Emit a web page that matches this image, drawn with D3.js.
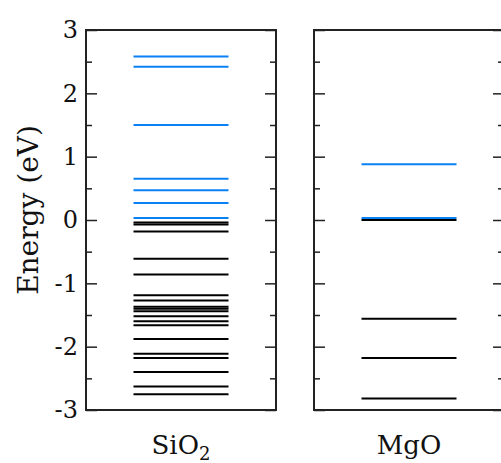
<!DOCTYPE html>
<html>
<head>
<meta charset="utf-8">
<script src="https://cdn.jsdelivr.net/npm/d3@7"></script>
<style>
  body { margin: 0; background: #fff; }
  .serif { font-family: 'DejaVu Serif', serif; }
</style>
</head>
<body>
<svg id="chart"></svg>
<script>
// panels (materials)
const materials = ['SiO2', 'MgO'];
// unoccupied levels (blue), eV
const sio2Empty = [2.58, 2.42, 1.50, 0.65, 0.47, 0.27, 0.03];
const mgoEmpty = [0.88, 0.03];
// occupied levels (black), eV
const sio2Filled = [-0.04, -0.07, -0.18, -0.61, -0.86, -1.19, -1.27, -1.37, -1.40, -1.44,
                    -1.52, -1.60, -1.66, -1.88, -2.11, -2.18, -2.40, -2.63, -2.75];
const mgoFilled = [0.0, -1.56, -2.18, -2.82];
const majorTicks = [-3, -2, -1, 0, 1, 2, 3];
const minorTicks = [-2.5, -1.5, -0.5, 0.5, 1.5, 2.5];

const levels = [];
sio2Filled.forEach(e => levels.push({mat: 'SiO2', e: e, empty: false}));
sio2Empty.forEach(e => levels.push({mat: 'SiO2', e: e, empty: true}));
mgoFilled.forEach(e => levels.push({mat: 'MgO', e: e, empty: false}));
mgoEmpty.forEach(e => levels.push({mat: 'MgO', e: e, empty: true}));

const config = {
  width: 501, height: 463,
  margin: {top: 30, right: -3, bottom: 53, left: 86}
};
const innerH = config.height - config.margin.top - config.margin.bottom;
const innerW = config.width - config.margin.left - config.margin.right;

const svg = d3.select('#chart')
  .attr('width', config.width)
  .attr('height', config.height);

const chart = svg.append('g')
  .attr('transform', `translate(${config.margin.left},${config.margin.top})`);

const yScale = d3.scaleLinear().domain([-3, 3]).range([innerH, 0]);
const xScale = d3.scaleBand().domain(materials).range([0, innerW])
  .paddingInner(0.1667).paddingOuter(0);
const bw = xScale.bandwidth();

// energy levels
chart.selectAll('.level')
  .data(levels)
  .join('line')
  .attr('class', 'level')
  .attr('x1', d => xScale(d.mat) + bw * 0.25)
  .attr('x2', d => xScale(d.mat) + bw * 0.75)
  .attr('y1', d => yScale(d.e))
  .attr('y2', d => yScale(d.e))
  .attr('stroke', d => d.empty ? '#0a80f5' : '#000')
  .attr('stroke-width', 2);

materials.forEach((m, i) => {
  const g = chart.append('g').attr('transform', `translate(${xScale(m)},0)`);

  const left = g.append('g')
    .call(d3.axisLeft(yScale).tickValues(majorTicks).tickSizeInner(-11).tickSizeOuter(0).tickPadding(8));
  g.append('g').call(d3.axisLeft(yScale).tickValues(minorTicks).tickSizeInner(-6).tickSizeOuter(0).tickFormat(''));
  g.append('g').attr('transform', `translate(${bw},0)`)
    .call(d3.axisRight(yScale).tickValues(majorTicks).tickSizeInner(-11).tickSizeOuter(0).tickFormat(''));
  g.append('g').attr('transform', `translate(${bw},0)`)
    .call(d3.axisRight(yScale).tickValues(minorTicks).tickSizeInner(-6).tickSizeOuter(0).tickFormat(''));

  g.selectAll('.domain').remove();
  g.selectAll('.tick line').attr('stroke', '#222').attr('stroke-width', 1.5);

  if (i === 0) {
    left.attr('font-family', null).attr('font-size', null);
    left.selectAll('.tick text')
      .attr('class', 'serif')
      .style('font-size', '24px')
      .attr('fill', '#111')
      .text(d => d < 0 ? '-' + Math.abs(d) : d);
  } else {
    left.selectAll('.tick text').remove();
  }

  g.append('rect')
    .attr('width', bw).attr('height', innerH)
    .attr('fill', 'none').attr('stroke', '#222').attr('stroke-width', 2);

  // material label
  const lab = g.append('text')
    .attr('class', 'serif')
    .attr('x', bw / 2).attr('y', innerH + 44)
    .attr('text-anchor', 'middle')
    .style('font-size', '26px')
    .attr('fill', '#111');
  if (m === 'SiO2') {
    lab.append('tspan').text('SiO');
    lab.append('tspan').attr('dy', 6).style('font-size', '18px').text('2');
  } else {
    lab.text(m);
  }
});

chart.append('text')
  .attr('class', 'serif')
  .attr('transform', `translate(-48,${innerH / 2 - 10}) rotate(-90)`)
  .attr('text-anchor', 'middle')
  .style('font-size', '28px')
  .attr('fill', '#111')
  .text('Energy (eV)');
</script>
</body>
</html>
